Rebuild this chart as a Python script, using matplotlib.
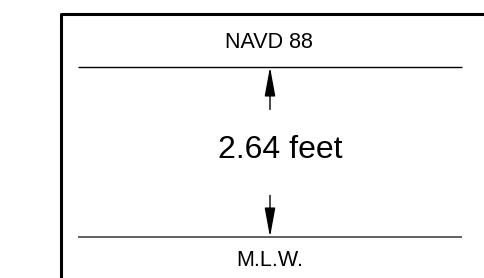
import matplotlib
matplotlib.use("Agg")
import matplotlib.pyplot as plt

# Data
datum_labels = ["M.L.W.", "NAVD 88"]
datum_values = [0.0, 2.64]
difference_label = "2.64 feet"

plt.rcParams['font.family'] = ['Liberation Sans', 'DejaVu Sans']

fig = plt.figure(figsize=(4.85, 2.78), dpi=100)
ax = fig.add_axes([0, 0, 1, 1])
ax.set_xlim(0, 485)
px_per_ft = 170 / (datum_values[1] - datum_values[0])
ax.set_ylim(datum_values[0] - 41 / px_per_ft, datum_values[1] + 67 / px_per_ft)
ax.axis('off')

low, high = datum_values
diff = high - low

# frame (partially visible box)
box_top = high + 53 / px_per_ft
ax.plot([61, 61, 500], [low - 2, box_top, box_top], color='black', lw=2.2,
        solid_joinstyle='round', solid_capstyle='butt', clip_on=False)

# datum lines
ax.hlines(high, 78, 462, color='black', lw=1.0)
ax.hlines(low, 78, 462, color='#555555', lw=1.3)

# arrows
aprops = dict(arrowstyle='-|>,head_length=1.8,head_width=0.33', mutation_scale=10,
              lw=1.0, color='black', shrinkA=0, shrinkB=0)
ax.annotate('', xy=(270, high), xytext=(270, high - 0.25 * diff), arrowprops=aprops)
ax.annotate('', xy=(270, low), xytext=(270, low + 0.245 * diff), arrowprops=aprops)

# labels
ax.text(268.5, high + 18.7 / px_per_ft, datum_labels[1], ha='center', va='baseline',
        fontsize=15.5, color='black')
ax.text(269.5, low - 29 / px_per_ft, datum_labels[0], ha='center', va='baseline',
        fontsize=15.5, color='black')
ax.text(280, low + 79 / px_per_ft, difference_label, ha='center', va='baseline',
        fontsize=23, color='black')

fig.savefig("out.png", dpi=100)
